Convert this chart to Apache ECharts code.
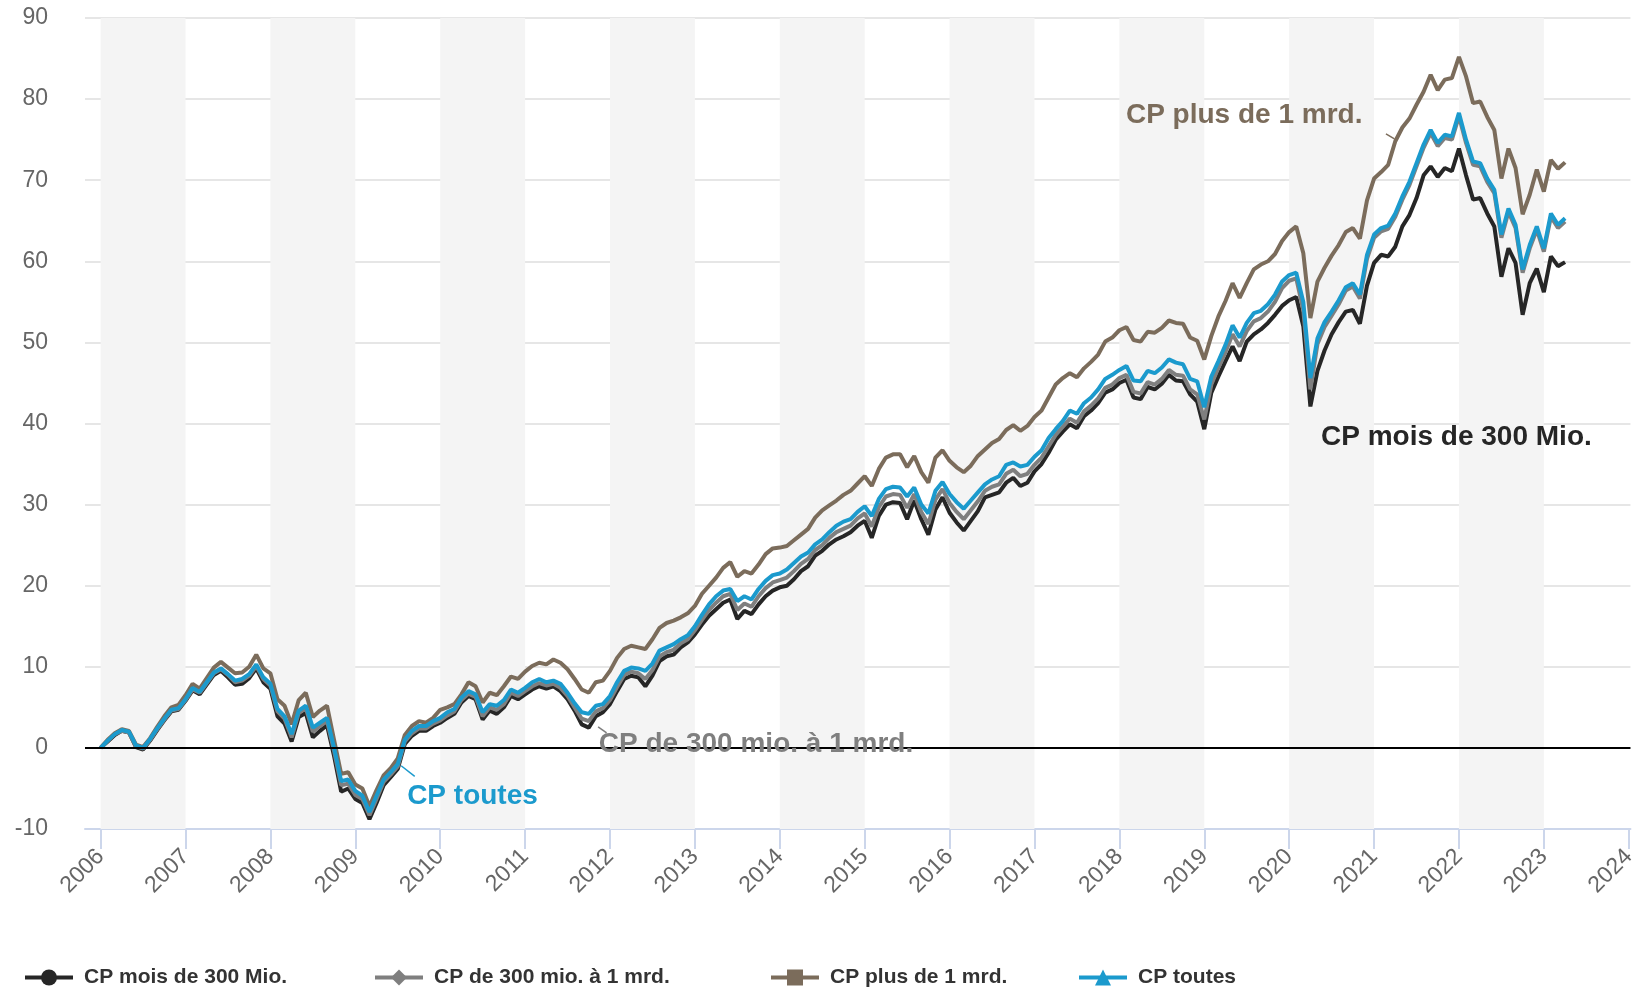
<!DOCTYPE html>
<html>
<head>
<meta charset="utf-8">
<script src="https://cdn.jsdelivr.net/npm/echarts@6/dist/echarts.min.js"></script>
<style>html,body{margin:0;padding:0;background:#fff;}#c{width:1639px;height:991px;}</style>
</head>
<body>
<div id="c"></div>
<script>
// Monthly series, starting January 2006
const startYear = 2006;
const seriesNames = ['CP mois de 300 Mio.', 'CP de 300 mio. à 1 mrd.', 'CP plus de 1 mrd.', 'CP toutes'];

const cpMoins300 = [
  0.0, 0.8, 1.6, 2.1, 1.9, 0.1, -0.2, 0.9, 2.2, 3.4, 4.5, 4.7,
  5.8, 7.1, 6.6, 7.8, 9.0, 9.5, 8.7, 7.8, 7.9, 8.6, 9.8, 8.1,
  7.3, 3.9, 3.0, 0.8, 3.8, 4.3, 1.3, 2.1, 2.8, -1.0, -5.4, -5.0,
  -6.3, -6.8, -8.8, -6.8, -4.6, -3.6, -2.6, 0.5, 1.5, 2.1, 2.1, 2.7,
  3.1, 3.7, 4.2, 5.6, 6.4, 6.0, 3.5, 4.6, 4.2, 5.0, 6.4, 6.0,
  6.6, 7.2, 7.6, 7.3, 7.6, 7.0, 6.0, 4.6, 2.9, 2.5, 3.9, 4.4,
  5.4, 7.0, 8.5, 8.9, 8.7, 7.6, 8.9, 10.7, 11.3, 11.5, 12.4, 13.0,
  14.0, 15.2, 16.3, 17.1, 17.9, 18.3, 15.9, 16.9, 16.5, 17.7, 18.7, 19.4,
  19.8, 20.0, 20.8, 21.8, 22.4, 23.7, 24.3, 25.1, 25.7, 26.1, 26.6, 27.4,
  28.0, 25.9, 28.6, 30.0, 30.3, 30.2, 28.2, 30.5, 28.2, 26.3, 29.4, 30.9,
  29.0, 27.8, 26.8, 28.0, 29.2, 30.9, 31.2, 31.5, 32.7, 33.3, 32.3, 32.7,
  34.1, 35.0, 36.4, 38.0, 39.0, 39.9, 39.4, 40.9, 41.6, 42.5, 43.8, 44.2,
  45.0, 45.4, 43.2, 43.0, 44.5, 44.2, 44.9, 46.0, 45.3, 45.2, 43.6, 42.7,
  39.3, 43.8, 45.8, 47.7, 49.5, 47.7, 50.1, 51.0, 51.6, 52.4, 53.4, 54.5,
  55.2, 55.6, 52.0, 42.1, 46.5, 49.0, 51.0, 52.5, 53.8, 54.0, 52.3, 57.0,
  59.8, 60.8, 60.6, 61.8, 64.3, 65.7, 67.8, 70.6, 71.7, 70.4, 71.5, 71.1,
  73.9, 70.6, 67.6, 67.8, 65.9, 64.3, 58.1, 61.6, 59.8, 53.4, 57.3, 59.1,
  56.2, 60.6, 59.4, 59.9
];

const cp300a1mrd = [
  0.0, 0.9, 1.7, 2.1, 1.9, 0.2, -0.1, 1.0, 2.3, 3.5, 4.6, 4.8,
  5.9, 7.2, 6.8, 8.0, 9.2, 9.7, 9.0, 8.1, 8.3, 8.9, 10.1, 8.5,
  7.7, 4.5, 3.6, 1.3, 4.3, 4.9, 2.0, 2.7, 3.3, -0.4, -4.6, -4.4,
  -5.8, -6.3, -8.3, -6.3, -4.2, -3.3, -2.3, 0.8, 1.8, 2.4, 2.4, 3.0,
  3.4, 4.0, 4.5, 5.9, 6.7, 6.3, 3.9, 5.0, 4.7, 5.4, 6.8, 6.4,
  7.0, 7.6, 8.0, 7.7, 7.9, 7.4, 6.4, 5.0, 3.6, 3.3, 4.5, 4.9,
  5.9, 7.5, 9.0, 9.4, 9.2, 8.5, 9.6, 11.3, 11.8, 12.1, 12.9, 13.4,
  14.5, 15.8, 17.0, 17.9, 18.7, 19.0, 17.0, 17.8, 17.4, 18.7, 19.7, 20.4,
  20.7, 21.0, 21.8, 22.7, 23.3, 24.4, 25.0, 25.9, 26.6, 27.0, 27.4, 28.3,
  28.9, 27.3, 29.7, 31.0, 31.3, 31.2, 29.6, 31.3, 29.1, 27.6, 30.6, 31.9,
  30.2, 29.1, 28.2, 29.3, 30.4, 31.7, 32.2, 32.5, 33.8, 34.3, 33.5, 33.8,
  34.9, 35.8, 37.2, 38.6, 39.6, 40.6, 40.1, 41.5, 42.2, 43.1, 44.4, 44.8,
  45.6, 46.0, 43.9, 43.7, 45.1, 44.8, 45.5, 46.6, 46.0, 45.9, 44.2, 43.6,
  40.5, 44.8, 46.9, 48.8, 51.0, 49.5, 51.4, 52.6, 53.0, 53.8, 55.0, 56.7,
  57.6, 57.9, 54.0, 44.2, 49.8, 51.9, 53.3, 54.7, 56.4, 56.9, 55.4, 60.3,
  62.9, 63.7, 64.0, 65.5, 67.6, 69.4, 71.7, 74.0, 75.8, 74.2, 75.2, 75.0,
  77.9, 74.6, 71.9, 71.7, 69.8, 68.4, 62.9, 66.1, 64.1, 58.6, 61.6, 63.9,
  61.2, 65.5, 64.1, 64.9
];

const cpPlus1mrd = [
  0.0, 1.0, 1.8, 2.3, 2.1, 0.4, 0.1, 1.2, 2.6, 3.9, 5.0, 5.3,
  6.5, 7.9, 7.3, 8.6, 9.9, 10.6, 9.9, 9.2, 9.3, 10.0, 11.5, 9.8,
  9.2, 6.0, 5.2, 2.9, 5.9, 6.8, 3.8, 4.6, 5.2, 1.0, -3.2, -3.0,
  -4.5, -5.0, -7.2, -5.2, -3.4, -2.5, -1.3, 1.6, 2.7, 3.3, 3.1, 3.7,
  4.7, 5.0, 5.4, 6.6, 8.1, 7.6, 5.6, 6.8, 6.5, 7.6, 8.8, 8.5,
  9.4, 10.1, 10.5, 10.3, 10.9, 10.5, 9.7, 8.5, 7.2, 6.8, 8.1, 8.3,
  9.5, 11.1, 12.2, 12.6, 12.4, 12.2, 13.4, 14.8, 15.4, 15.7, 16.1, 16.6,
  17.5, 19.0, 20.0, 21.0, 22.2, 22.9, 21.1, 21.8, 21.5, 22.6, 23.9, 24.6,
  24.7, 24.9, 25.6, 26.3, 27.0, 28.4, 29.3, 29.9, 30.5, 31.2, 31.7, 32.6,
  33.5, 32.3, 34.4, 35.8, 36.2, 36.2, 34.6, 36.0, 34.0, 32.7, 35.8, 36.7,
  35.4, 34.6, 34.0, 34.8, 36.0, 36.8, 37.6, 38.1, 39.2, 39.8, 39.1, 39.7,
  40.8, 41.6, 43.2, 44.8, 45.6, 46.2, 45.7, 46.8, 47.6, 48.5, 50.1, 50.6,
  51.5, 51.9, 50.3, 50.1, 51.3, 51.2, 51.8, 52.7, 52.4, 52.3, 50.6, 50.2,
  47.9, 50.8, 53.2, 55.1, 57.3, 55.5, 57.3, 59.0, 59.6, 60.0, 60.9, 62.5,
  63.6, 64.3, 61.0, 53.0, 57.5, 59.2, 60.7, 62.0, 63.6, 64.1, 62.8, 67.5,
  70.2, 71.0, 71.9, 74.8, 76.5, 77.6, 79.3, 80.9, 83.0, 81.1, 82.4, 82.6,
  85.2, 82.8, 79.5, 79.7, 77.8, 76.2, 70.2, 73.9, 71.5, 65.8, 68.2, 71.3,
  68.6, 72.5, 71.4, 72.2
];

const cpToutes = [
  0.0, 0.9, 1.7, 2.2, 2.0, 0.3, 0.0, 1.1, 2.4, 3.6, 4.7, 4.9,
  6.0, 7.4, 6.9, 8.1, 9.3, 9.8, 9.1, 8.3, 8.5, 9.1, 10.3, 8.7,
  7.9, 4.8, 3.9, 1.7, 4.6, 5.2, 2.5, 3.1, 3.7, 0.0, -4.1, -3.9,
  -5.3, -5.9, -7.9, -5.9, -3.9, -3.0, -2.0, 1.0, 2.1, 2.7, 2.7, 3.3,
  3.7, 4.4, 4.8, 6.2, 7.0, 6.6, 4.4, 5.4, 5.2, 5.9, 7.2, 6.8,
  7.4, 8.1, 8.5, 8.1, 8.3, 7.9, 6.8, 5.5, 4.4, 4.2, 5.2, 5.4,
  6.4, 8.1, 9.5, 9.9, 9.8, 9.5, 10.4, 12.0, 12.4, 12.8, 13.4, 13.9,
  15.0, 16.4, 17.7, 18.7, 19.4, 19.6, 18.1, 18.7, 18.3, 19.6, 20.6, 21.3,
  21.5, 22.0, 22.8, 23.6, 24.1, 25.1, 25.7, 26.6, 27.4, 27.9, 28.2, 29.1,
  29.8, 28.6, 30.7, 31.9, 32.2, 32.1, 31.0, 32.1, 30.0, 28.9, 31.7, 32.8,
  31.3, 30.3, 29.5, 30.5, 31.5, 32.5, 33.1, 33.5, 34.9, 35.2, 34.7, 34.9,
  35.9, 36.7, 38.2, 39.3, 40.3, 41.6, 41.2, 42.5, 43.2, 44.2, 45.5, 46.0,
  46.6, 47.1, 45.3, 45.2, 46.5, 46.2, 46.9, 47.9, 47.5, 47.3, 45.5, 45.2,
  42.0, 45.8, 47.7, 49.7, 52.1, 50.6, 52.4, 53.6, 53.9, 54.7, 55.9, 57.5,
  58.3, 58.6, 55.0, 45.6, 50.5, 52.5, 53.8, 55.2, 56.8, 57.3, 55.9, 60.8,
  63.3, 64.1, 64.4, 65.9, 68.0, 69.8, 72.1, 74.4, 76.2, 74.6, 75.6, 75.4,
  78.3, 75.0, 72.3, 72.1, 70.2, 68.8, 63.3, 66.5, 64.5, 59.0, 62.0, 64.3,
  61.6, 65.9, 64.5, 65.3
];

const yearTicks = [2006, 2007, 2008, 2009, 2010, 2011, 2012, 2013, 2014, 2015,
                   2016, 2017, 2018, 2019, 2020, 2021, 2022, 2023, 2024];
const shadedYears = [2006, 2008, 2010, 2012, 2014, 2016, 2018, 2020, 2022];

const FONT = '"Liberation Sans", Arial, sans-serif';
const colors = ['#262626', '#7f7f7f', '#7b6c5b', '#1b9acd'];
const symbols = ['circle', 'diamond', 'rect', 'triangle'];

function toPairs(arr) {
  return arr.map((v, i) => [startYear + i / 12, v]);
}

// in-chart labels (data coordinates) and their short connectors
const labels = [
  { at: [2021.97, 38.3], text: seriesNames[0] },
  { at: [2013.72, 0.45], text: seriesNames[1], line: [[2011.86, 2.6], [2011.96, 1.85]] },
  { at: [2019.47, 78.0], text: seriesNames[2], line: [[2021.14, 75.7], [2021.24, 75.1]] },
  { at: [2010.38, -5.95], text: seriesNames[3], line: [[2009.54, -2.2], [2009.70, -3.5]] }
];

const dataSets = [cpMoins300, cp300a1mrd, cpPlus1mrd, cpToutes];

function makeSeries(i) {
  const lab = labels[i];
  const s = {
    name: seriesNames[i],
    type: 'line',
    data: toPairs(dataSets[i]),
    symbol: symbols[i],
    symbolSize: 14,
    showSymbol: false,
    lineStyle: { color: colors[i], width: 4 },
    itemStyle: { color: colors[i] },
    z: 2,
    markPoint: {
      symbol: 'rect',
      symbolSize: 1,
      itemStyle: { color: 'rgba(0,0,0,0)' },
      label: {
        show: true, position: 'inside', formatter: lab.text,
        fontSize: 28, fontWeight: 'bold', fontFamily: FONT, color: colors[i]
      },
      data: [{ coord: lab.at }]
    }
  };
  if (lab.line) {
    s.markLine = {
      symbol: 'none', silent: true,
      lineStyle: { color: colors[i], width: 1.5, type: 'solid' },
      label: { show: false },
      data: [[{ coord: lab.line[0] }, { coord: lab.line[1] }]]
    };
  }
  return s;
}

const chart = echarts.init(document.getElementById('c'), null, { renderer: 'canvas' });

const series = [
  {
    name: 'bands', type: 'line', data: [], z: -1, silent: true,
    markArea: {
      silent: true,
      itemStyle: { color: '#f4f4f4' },
      data: shadedYears.map(y => [{ xAxis: y }, { xAxis: y + 1 }])
    }
  },
  makeSeries(0), makeSeries(1), makeSeries(2),
  {
    name: 'zero', type: 'line', data: [], z: 2, silent: true,
    markLine: {
      symbol: 'none', silent: true,
      lineStyle: { color: '#000', width: 2, type: 'solid' },
      label: { show: false },
      data: [{ yAxis: 0 }]
    }
  },
  makeSeries(3)
];

const legendLefts = [23, 373, 769, 1077];
const legends = seriesNames.map((n, i) => ({
  data: [n],
  left: legendLefts[i],
  top: 967,
  padding: 0,
  itemWidth: 48,
  itemHeight: 20,
  selectedMode: false,
  lineStyle: { width: 4 },
  textStyle: { color: '#333', fontSize: 21, fontWeight: 'bold', fontFamily: FONT, padding: [0, 0, 0, 6] }
}));

chart.setOption({
  animation: false,
  backgroundColor: '#fff',
  textStyle: { fontFamily: FONT },
  grid: { left: 85, right: 3, top: 18, bottom: 162, containLabel: false },
  legend: legends,
  xAxis: {
    type: 'value',
    min: 2005.816,
    max: 2024.02,
    axisLine: { show: true, onZero: false, lineStyle: { color: '#ccd6eb', width: 2 } },
    axisTick: { show: true, customValues: yearTicks, length: 20, lineStyle: { color: '#ccd6eb', width: 2 } },
    axisLabel: {
      customValues: yearTicks, rotate: 45, margin: 24,
      color: '#666', fontSize: 23, fontFamily: FONT,
      formatter: v => String(Math.round(v))
    },
    splitLine: { show: false }
  },
  yAxis: {
    type: 'value',
    min: -10, max: 90, interval: 10,
    axisLine: { show: false },
    axisTick: { show: false },
    axisLabel: { color: '#666', fontSize: 23, margin: 37, fontFamily: FONT },
    splitLine: { show: true, lineStyle: { color: '#e6e6e6', width: 2 } }
  },
  series: series
});
</script>
</body>
</html>
